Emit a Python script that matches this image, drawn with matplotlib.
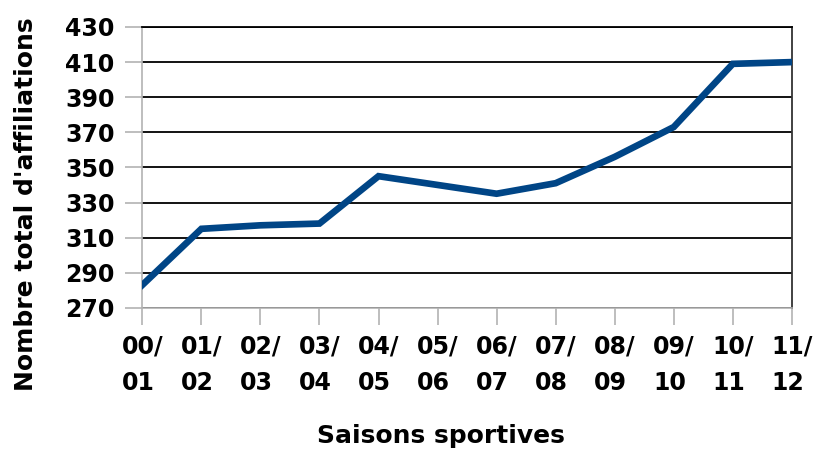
import matplotlib
matplotlib.use("Agg")
import matplotlib.pyplot as plt

plt.rcParams['font.family'] = ['DejaVu Sans']

saisons = ["00/\n01", "01/\n02", "02/\n03", "03/\n04", "04/\n05", "05/\n06",
           "06/\n07", "07/\n08", "08/\n09", "09/\n10", "10/\n11", "11/\n12"]
affiliations = [283, 315, 317, 318, 345, 340, 335, 341, 356, 373, 409, 410]
yticks = list(range(270, 431, 20))

fig = plt.figure(figsize=(8.18, 4.5), dpi=100)
ax = fig.add_axes([0.174, 0.316, 0.794, 0.624])

x = range(len(saisons))
ax.plot(x, affiliations, color="#004586", linewidth=4.8, solid_joinstyle="miter", zorder=3)

ax.set_xlim(0, len(saisons) - 1)
ax.set_ylim(270, 430)
ax.set_yticks(yticks)
ax.set_xticks(list(x))
ax.set_xticklabels(saisons, fontsize=17, fontweight="bold", linespacing=1.7,
                   multialignment="left")
ax.set_yticklabels([str(v) for v in yticks], fontsize=17, fontweight="bold")

ax.yaxis.grid(True, color="black", linewidth=1.3)
ax.set_axisbelow(True)
ax.tick_params(axis="x", colors="#b3b3b3", length=12, width=1.2, pad=7, labelcolor="black")
ax.tick_params(axis="y", colors="#b3b3b3", length=12, width=1.2, pad=8, labelcolor="black")

for s in ["left", "bottom"]:
    ax.spines[s].set_color("#b3b3b3")
    ax.spines[s].set_linewidth(1.2)
ax.spines["right"].set_color("#333333")
ax.spines["right"].set_linewidth(1.3)
ax.spines["top"].set_color("black")
ax.spines["top"].set_linewidth(1.3)

fig.text(0.032, 0.547, "Nombre total d'affiliations", rotation=90, ha="center", va="center",
         fontsize=18, fontweight="bold")
fig.text(0.539, 0.015, "Saisons sportives", ha="center", fontsize=18, fontweight="bold")

plt.savefig("out.png", dpi=100)
